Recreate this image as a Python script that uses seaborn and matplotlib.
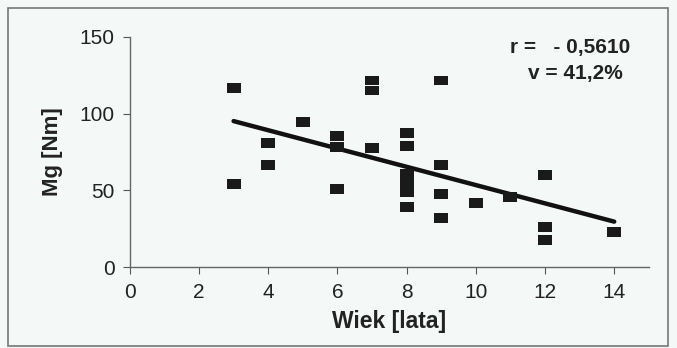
import numpy as np
import pandas as pd
import seaborn as sns
import matplotlib.pyplot as plt
from matplotlib.path import Path
from matplotlib.patches import Rectangle

# Age (years) and moment Mg (Nm) for each subject
wiek = [3, 3, 4, 4, 5, 6, 6, 6, 7, 7, 7,
        8, 8, 8, 8, 8, 8, 8,
        9, 9, 9, 9, 10, 11, 12, 12, 12, 14]
mg = [116.5, 54, 81, 66.5, 94.5, 85.5, 78, 51, 121.5, 115, 77.5,
      87.5, 79, 61, 57, 53, 49, 39,
      121.5, 66.5, 47.5, 32, 42, 45.5, 60, 26, 18, 23]

x_ticks = [0, 2, 4, 6, 8, 10, 12, 14]
y_ticks = [0, 50, 100, 150]
stats_text = ["r =   - 0,5610", "v = 41,2%"]

df = pd.DataFrame({"Wiek": wiek, "Mg": mg})

sns.set_theme(style="white")
plt.rcParams["font.family"] = ["Liberation Sans", "DejaVu Sans"]

bg = "#f4f8f7"
fig = plt.figure(figsize=(6.77, 3.48), dpi=100, facecolor=bg)
ax = fig.add_axes([0.1917, 0.2319, 0.7667, 0.6626])
ax.set_facecolor(bg)

# flat rectangular marker (wider than tall)
rect = Path([(-1.4, -1.0), (1.4, -1.0), (1.4, 1.0), (-1.4, 1.0), (-1.4, -1.0)],
            [Path.MOVETO, Path.LINETO, Path.LINETO, Path.LINETO, Path.CLOSEPOLY])

sns.regplot(data=df, x="Wiek", y="Mg", ax=ax, scatter=False, ci=None,
            truncate=True, line_kws=dict(color="#111111", lw=3.2, zorder=2))
sns.scatterplot(data=df, x="Wiek", y="Mg", ax=ax, marker=rect, s=100,
                color="#1a1a1a", edgecolor="none", zorder=3)

ax.set_xlim(0, 15)
ax.set_ylim(0, 150)
ax.set_xticks(x_ticks)
ax.set_yticks(y_ticks)
ax.tick_params(axis="both", which="major", direction="out", length=5,
               width=0.8, color="#555555", labelsize=15, labelcolor="#222222",
               pad=6, left=True, bottom=True)
for side in ["top", "right"]:
    ax.spines[side].set_visible(False)
for side in ["left", "bottom"]:
    ax.spines[side].set_color("#666666")
    ax.spines[side].set_linewidth(1.0)

ax.set_xlabel("Wiek [lata]", fontsize=16.5, fontweight="bold", color="#222222",
              labelpad=6)
ax.set_ylabel("Mg [Nm]", fontsize=16, fontweight="bold", color="#222222",
              labelpad=12)

ax.text(570 / 677, 1 - 47 / 348, stats_text[0], transform=fig.transFigure,
        ha="center", va="center", fontsize=15, fontweight="bold",
        color="#222222")
ax.text(575 / 677, 1 - 73 / 348, stats_text[1], transform=fig.transFigure,
        ha="center", va="center", fontsize=15, fontweight="bold",
        color="#222222")

# outer frame
fig.add_artist(Rectangle((8 / 677, 1 - 346 / 348), (668 - 8) / 677, (346 - 8) / 348,
                         transform=fig.transFigure, fill=False,
                         edgecolor="#777777", lw=1.2))

fig.savefig("out.png", dpi=100, facecolor=bg)
